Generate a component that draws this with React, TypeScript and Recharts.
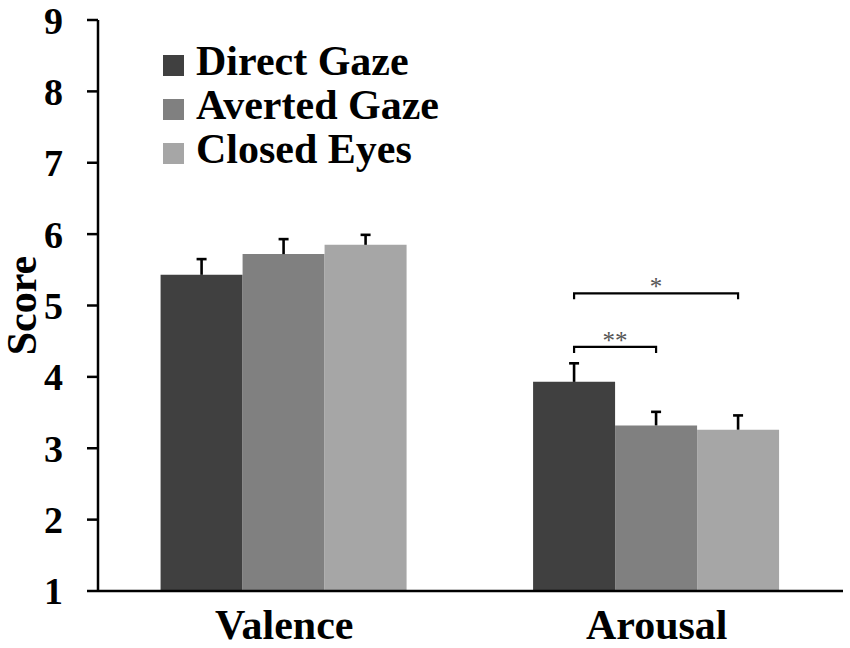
import React from 'react'
import { BarChart, Bar, XAxis, YAxis, Legend, LabelList } from 'recharts'

const categories = ['Valence', 'Arousal']
const directGaze = [5.43, 3.93]
const avertedGaze = [5.72, 3.32]
const closedEyes = [5.85, 3.26]
const directErr = [0.22, 0.26]
const avertedErr = [0.21, 0.19]
const closedErr = [0.14, 0.2]
const yTicks = [1, 2, 3, 4, 5, 6, 7, 8, 9]
const seriesNames = ['Direct Gaze', 'Averted Gaze', 'Closed Eyes']

// significance brackets on the Arousal group (bar index: 0 direct, 1 averted, 2 closed)
const brackets = [
  { from: 0, to: 1, level: 4.42, mark: '**' },
  { from: 0, to: 2, level: 5.17, mark: '*' },
]

const FONT = '"Liberation Serif", "Times New Roman", serif'
const Y_MIN = 1

const data = categories.map((name, i) => ({
  name,
  direct: directGaze[i],
  averted: avertedGaze[i],
  closed: closedEyes[i],
  directErr: directErr[i],
  avertedErr: avertedErr[i],
  closedErr: closedErr[i],
}))

// one-sided (upper) error bar, scaled from the bar's own geometry
const errorBar = (errKey: string) => (props: any) => {
  const vb = props.viewBox ?? props
  const { x, y, width, height } = vb
  const value = Number(props.value)
  const err = data[props.index]?.[errKey as keyof (typeof data)[0]] as number
  if (!err) return null
  const perUnit = height / (value - Y_MIN)
  const cx = x + width / 2
  const top = y - err * perUnit
  return (
    <g>
      <line x1={cx} y1={y} x2={cx} y2={top} stroke="#000" strokeWidth={2.6} />
      <line x1={cx - 5} y1={top} x2={cx + 5} y2={top} stroke="#000" strokeWidth={2.6} />
    </g>
  )
}

// draws brackets from the geometry of the Arousal "direct" bar (bars sit side by side, gap 0)
const renderBrackets = (props: any) => {
  if (props.index !== 1) return null
  const vb = props.viewBox ?? props
  const { x, y, width, height } = vb
  const value = Number(props.value)
  const perUnit = height / (value - Y_MIN)
  const base = y + height
  return (
    <g>
      {brackets.map((b, k) => {
        const x1 = x + width * (b.from + 0.5)
        const x2 = x + width * (b.to + 0.5)
        const by = base - (b.level - Y_MIN) * perUnit
        return (
          <g key={k}>
            <path
              d={`M${x1},${by + 6}L${x1},${by}L${x2},${by}L${x2},${by + 6}`}
              fill="none"
              stroke="#000"
              strokeWidth={2.2}
            />
            <text
              x={(x1 + x2) / 2}
              y={by + 2}
              textAnchor="middle"
              fontSize={25}
              fontFamily={FONT}
              fill="#555"
            >
              {b.mark}
            </text>
          </g>
        )
      })}
    </g>
  )
}

export default function App() {
  return (
    <div style={{ position: 'absolute', left: 0, top: 0, background: '#fff' }}>
      <BarChart
        width={850}
        height={648}
        data={data}
        margin={{ top: 20, right: 7, bottom: 0, left: 0 }}
        barCategoryGap="16.8%"
        barGap={0}
      >
        <XAxis
          dataKey="name"
          height={57}
          tickLine={false}
          tickSize={0}
          tickMargin={18}
          axisLine={{ stroke: '#000', strokeWidth: 2.5 }}
          tick={{ fill: '#000', fontSize: 42, fontWeight: 'bold', fontFamily: FONT }}
        />
        <YAxis
          width={98}
          domain={[Y_MIN, 9]}
          ticks={yTicks}
          interval={0}
          tickSize={11}
          tickMargin={24}
          axisLine={{ stroke: '#000', strokeWidth: 2.5 }}
          tickLine={{ stroke: '#000', strokeWidth: 2.5 }}
          tick={{ fill: '#000', fontSize: 38, fontWeight: 'bold', fontFamily: FONT }}
          label={{
            value: 'Score',
            angle: -90,
            position: 'insideLeft',
            offset: 21,
            fill: '#000',
            fontSize: 42,
            fontWeight: 'bold',
            fontFamily: FONT,
            style: { textAnchor: 'middle' },
          }}
        />
        <Legend
          layout="vertical"
          align="center"
          verticalAlign="middle"
          iconType="square"
          iconSize={21}
          itemSorter={(item: any) => seriesNames.indexOf(item.value)}
          wrapperStyle={{
            left: 163,
            top: 39,
            width: 320,
            fontSize: 42,
            lineHeight: '44px',
            fontWeight: 'bold',
            fontFamily: FONT,
          }}
          formatter={(value: string) => (
            <span style={{ color: '#000', marginLeft: 8 }}>{value}</span>
          )}
        />
        <Bar dataKey="direct" name={seriesNames[0]} fill="#404040" isAnimationActive={false}>
          <LabelList dataKey="direct" content={errorBar('directErr')} />
          <LabelList dataKey="direct" content={renderBrackets} />
        </Bar>
        <Bar dataKey="averted" name={seriesNames[1]} fill="#808080" isAnimationActive={false}>
          <LabelList dataKey="averted" content={errorBar('avertedErr')} />
        </Bar>
        <Bar dataKey="closed" name={seriesNames[2]} fill="#a6a6a6" isAnimationActive={false}>
          <LabelList dataKey="closed" content={errorBar('closedErr')} />
        </Bar>
      </BarChart>
    </div>
  )
}
